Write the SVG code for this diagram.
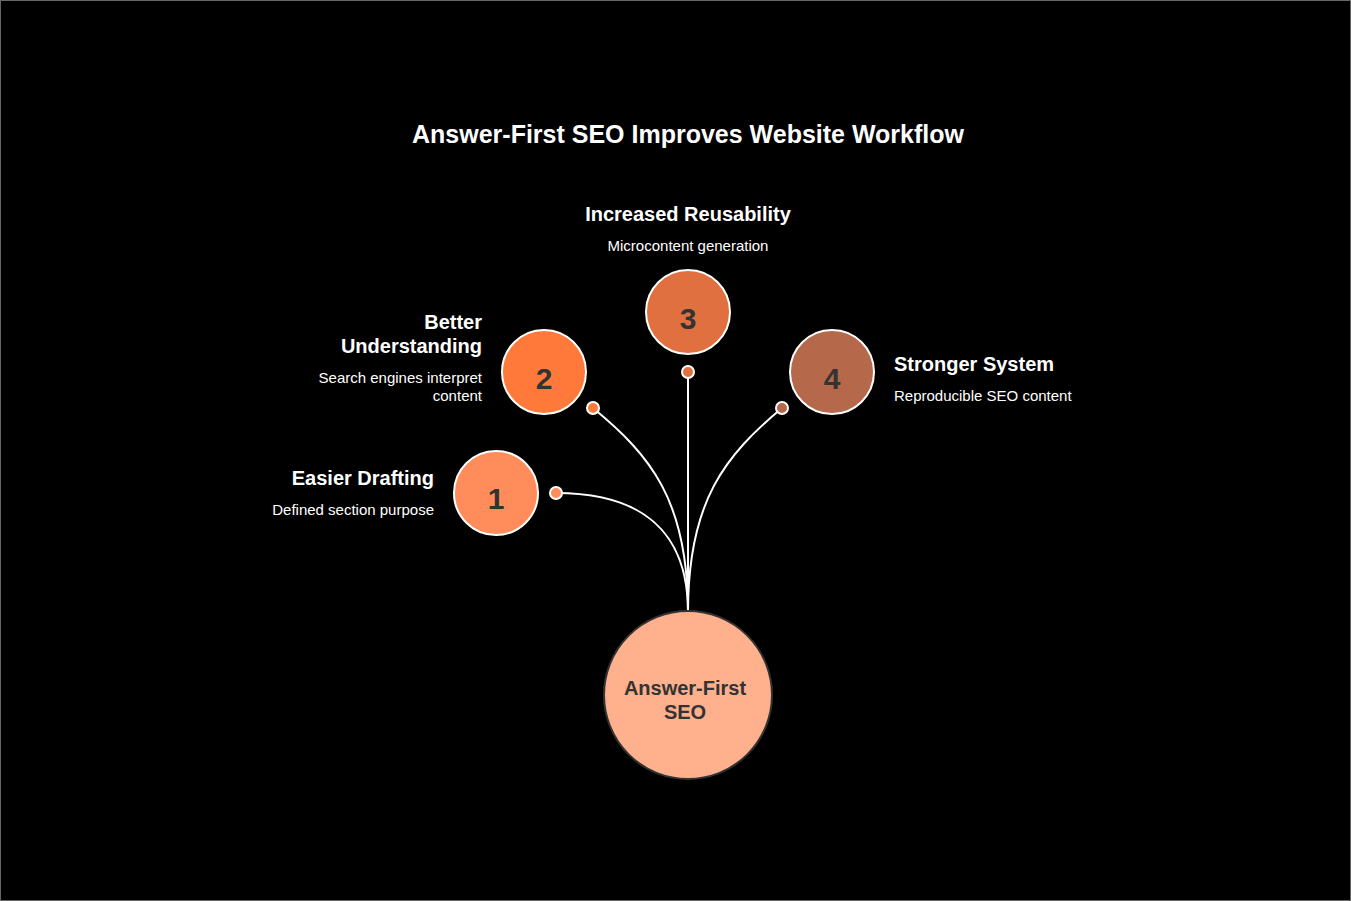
<svg xmlns="http://www.w3.org/2000/svg" width="1351" height="901" viewBox="0 0 1351 901">
<style>
text{font-family:"Liberation Sans",Arial,sans-serif}
.title{font-size:25px;font-weight:bold;fill:#fff}
.h{font-size:20px;font-weight:bold;fill:#fff}
.d{font-size:15px;fill:#fff}
.num{font-size:30px;font-weight:bold;fill:#333;text-anchor:middle}
.node{stroke:#fff;stroke-width:2}
.dot{stroke:#fff;stroke-width:2}
.conn{fill:none;stroke:#fff;stroke-width:2}
</style>
<rect x="0.5" y="0.5" width="1350" height="900" fill="#000" stroke="#666" stroke-width="1"/>
<text class="title" x="688" y="143" text-anchor="middle">Answer-First SEO Improves Website Workflow</text>
<g id="connectors">
<path class="conn" d="M556,493 C640,493 688,530 688,612"/>
<path class="conn" d="M593,408 C650,455 688,500 688,612"/>
<path class="conn" d="M688,372 L688,612"/>
<path class="conn" d="M782,408 C726,455 688,500 688,612"/>
<circle class="dot" cx="556" cy="493" r="6" fill="#FF8C5A"/>
<circle class="dot" cx="593" cy="408" r="6" fill="#FF7A3A"/>
<circle class="dot" cx="688" cy="372" r="6" fill="#E07040"/>
<circle class="dot" cx="782" cy="408" r="6" fill="#B5684A"/>
</g>
<g id="center">
<circle cx="688" cy="695" r="84" fill="#FFB08C" stroke="#333" stroke-width="2"/>
<text x="685" y="695" text-anchor="middle" font-size="20" font-weight="bold" fill="#333">Answer-First</text>
<text x="685" y="719" text-anchor="middle" font-size="20" font-weight="bold" fill="#333">SEO</text>
</g>
<g id="node1">
<circle class="node" cx="496" cy="493" r="42" fill="#FF8C5A"/>
<text class="num" x="496" y="509">1</text>
<text class="h" x="434" y="485" text-anchor="end">Easier Drafting</text>
<text class="d" x="434" y="515" text-anchor="end">Defined section purpose</text>
</g>
<g id="node2">
<circle class="node" cx="544" cy="372" r="42" fill="#FF7A3A"/>
<text class="num" x="544" y="389">2</text>
<text class="h" x="482" y="329" text-anchor="end">Better</text>
<text class="h" x="482" y="353" text-anchor="end">Understanding</text>
<text class="d" x="482" y="383" text-anchor="end">Search engines interpret</text>
<text class="d" x="482" y="401" text-anchor="end">content</text>
</g>
<g id="node3">
<circle class="node" cx="688" cy="312" r="42" fill="#E07040"/>
<text class="num" x="688" y="329">3</text>
<text class="h" x="688" y="221" text-anchor="middle">Increased Reusability</text>
<text class="d" x="688" y="251" text-anchor="middle">Microcontent generation</text>
</g>
<g id="node4">
<circle class="node" cx="832" cy="372" r="42" fill="#B5684A"/>
<text class="num" x="832" y="389">4</text>
<text class="h" x="894" y="371">Stronger System</text>
<text class="d" x="894" y="401">Reproducible SEO content</text>
</g>
</svg>
